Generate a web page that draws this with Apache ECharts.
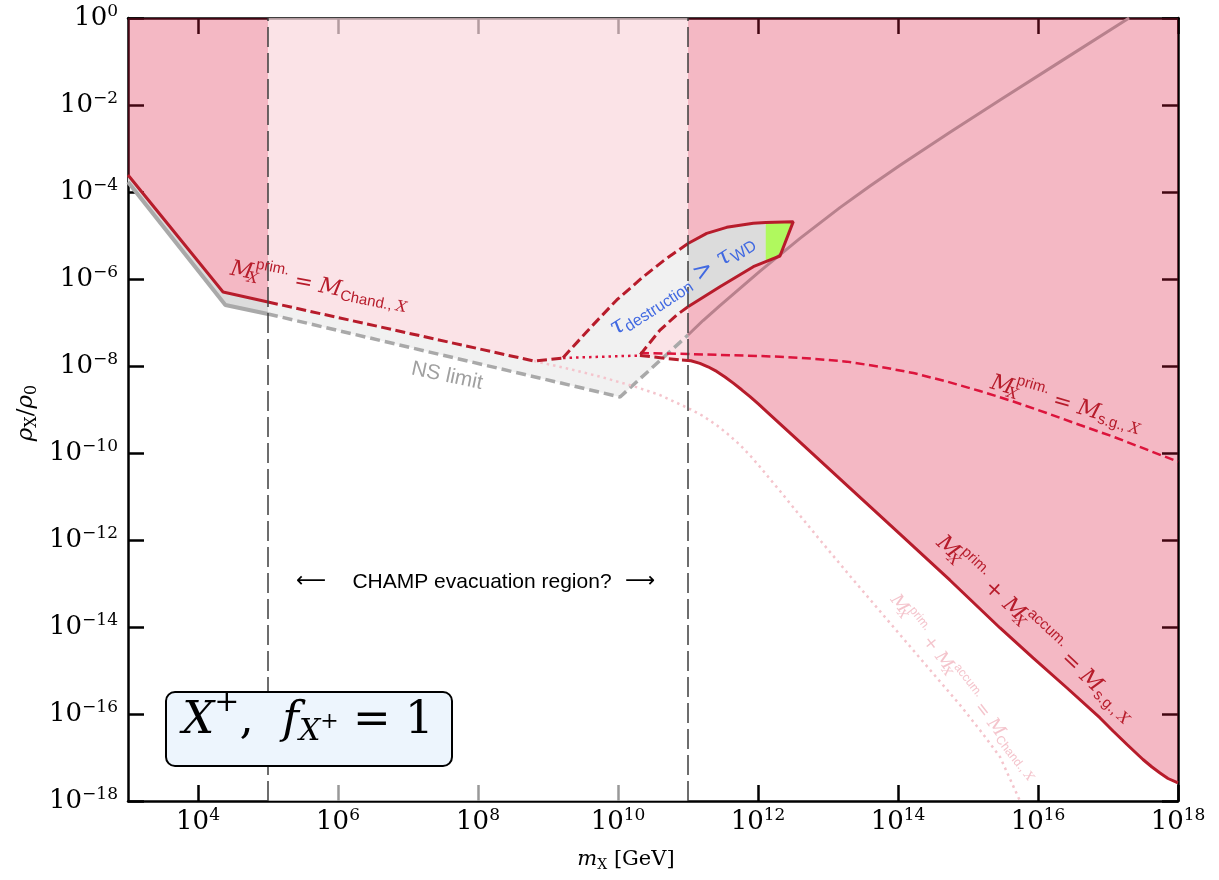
<!DOCTYPE html>
<html>
<head>
<meta charset="utf-8">
<script src="https://cdn.jsdelivr.net/npm/echarts@6.0.0/dist/echarts.min.js"></script>
<style>
html,body{margin:0;padding:0;background:#fff}
#chart{width:1219px;height:880px}
</style>
</head>
<body>
<div id="chart"></div>
<script>
// tick values (every second decade)
var xTicks = [1e4, 1e6, 1e8, 1e10, 1e12, 1e14, 1e16, 1e18];
var yTicks = [1e-18, 1e-16, 1e-14, 1e-12, 1e-10, 1e-8, 1e-6, 1e-4, 1e-2, 1];

// M_prim = M_Chand boundary (solid, dashed, dotted parts)
var chandSolid = [[1e3, 2.46e-4], [2.28e4, 5.02e-7], [1e5, 2.96e-7]];
var chandDashed = [[1e5, 2.96e-7], [6.31e8, 1.30e-8], [1.64e9, 1.53e-8]];
var chandDotted = [[1.64e9, 1.53e-8], [2.06e10, 1.74e-8]];
// M_prim + M_accum = M_s.g.
var sumDashed = [[2.06e10, 1.74e-8], [8.2e10, 1.37e-8]];
var sumSolid = [[8.2e10, 1.37e-8], [1.10e11, 1.32e-8], [1.48e11, 1.15e-8], [1.93e11, 9.6e-9], [2.57e11, 7.5e-9],
	[3.38e11, 5.6e-9], [4.44e11, 4.03e-9], [5.85e11, 2.84e-9], [7.69e11, 1.97e-9], [1.01e12, 1.34e-9],
	[1.33e12, 8.95e-10], [2.30e12, 4.0e-10], [3.98e12, 1.77e-10], [2.06e13, 1.55e-11], [1.07e14, 1.36e-12],
	[5.53e14, 1.19e-13], [2.87e15, 9.5e-15], [8.5e15, 1.94e-15], [2.6e16, 3.96e-16], [7.7e16, 8.1e-17],
	[1.18e17, 4.07e-17], [1.87e17, 1.99e-17], [2.43e17, 1.34e-17], [3.16e17, 9.0e-18], [4.25e17, 6.05e-18],
	[5.53e17, 4.4e-18], [7.2e17, 3.29e-18], [1e18, 2.6e-18]];
// M_prim = M_s.g.
var sgDashed = [[2.06e10, 1.99e-8], [1e11, 1.89e-8], [2.06e12, 1.64e-8], [6.17e12, 1.47e-8], [1.85e13, 1.26e-8],
	[5.53e13, 9.6e-9], [1.66e14, 6.9e-9], [4.97e14, 4.4e-9], [1.48e15, 2.66e-9], [4.44e15, 1.53e-9],
	[1.33e16, 8.3e-10], [3.98e16, 4.4e-10], [1.19e17, 2.37e-10], [3.38e17, 1.24e-10], [1e18, 6.3e-11]];
// M_prim + M_accum = M_Chand (faint)
var chandSum = [[6.31e8, 1.30e-8], [1.87e9, 8.8e-9], [5.53e9, 5.7e-9], [1.64e10, 3.47e-9], [3.98e10, 2.15e-9],
	[1e11, 1.08e-9], [1.64e11, 7.1e-10], [2.6e11, 4.29e-10], [3.85e11, 2.59e-10], [5.53e11, 1.53e-10],
	[7.69e11, 8.8e-11], [1.07e12, 4.77e-11], [1.48e12, 2.52e-11], [2.06e12, 1.34e-11], [3.61e12, 4.4e-12],
	[7.69e12, 1.0e-12], [2.06e13, 1.49e-13], [1.64e14, 2.96e-15], [7.7e14, 1.61e-16], [1.48e15, 4.28e-17],
	[2.87e15, 1.03e-17], [5.53e15, 1e-18]];
// NS limit
var nsSolid = [[1e3, 1.70e-4], [2.46e4, 2.52e-7], [1e5, 1.57e-7]];
var nsDashed = [[1e5, 1.57e-7], [1.07e10, 1.94e-9], [1e11, 5.16e-8]];
var nsUpper = [[1e11, 5.16e-8], [1.64e11, 1.11e-7], [2.86e11, 2.45e-7], [1.07e12, 1.51e-6], [3.98e12, 8.57e-6],
	[1.48e13, 4.38e-5], [3.98e13, 1.37e-4], [1.07e14, 4.11e-4], [5.53e14, 2.36e-3], [2.87e15, 1.30e-2],
	[2.06e16, 9.8e-2], [2.0e17, 1]];
var nsCross = [4.54e10, 1.53e-8];
// tau_destruction > tau_WD region
var tauUpperDashed = [[1.64e9, 1.55e-8], [3.98e9, 7.4e-8], [9.6e9, 3.3e-7], [2.30e10, 1.13e-6], [4.96e10, 2.99e-6], [1e11, 6.55e-6]];
var tauUpperSolid = [[1e11, 6.55e-6], [1.85e11, 1.12e-5], [3.57e11, 1.54e-5], [8.57e11, 1.91e-5], [1.29e12, 1.99e-5], [3.19e12, 2.08e-5]];
var tauLowerSolid = [[3.19e12, 2.08e-5], [2.06e12, 3.38e-6], [1.29e12, 2.5e-6], [8.57e11, 1.92e-6], [2.86e11, 6.65e-7], [1e11, 2.31e-7]];
var tauLowerDashed = [[1e11, 2.31e-7], [6.9e10, 1.49e-7], [3.98e10, 6.7e-8], [2.06e10, 1.79e-8]];
var greenArea = [[1.29e12, 1.99e-5], [3.19e12, 2.08e-5], [2.06e12, 3.38e-6], [1.29e12, 2.5e-6]];
// CHAMP evacuation band and dashed markers
var evacBand = [[1e5, 1e-18], [1e11, 1e-18], [1e11, 1], [1e5, 1]];
var vline5 = [[1e5, 1e-18], [1e5, 1]];
var vline11 = [[1e11, 1e-18], [1e11, 1]];

var red = '#b71c2b', crimson = '#dc143c', grey = '#a9a9a9', blue = '#4169e1';

function rev(a) {
	return a.slice().reverse();
}

var boundary = chandSolid.concat(chandDashed, chandDotted, sumDashed, sumSolid);
var pinkPoly = [[1e3, 1]].concat(boundary, [[1e18, 1]]);
var greyPoly = nsSolid.concat([nsDashed[1]], [nsCross], rev(chandDotted), rev(chandDashed), rev(chandSolid));
var tauPoly = tauUpperDashed.concat(tauUpperSolid, tauLowerSolid, tauLowerDashed);

function polygon(pts, fill) {
	return {
		type: 'custom', silent: true, animation: false, z: 2,
		data: [[1e6, 1e-6]],
		renderItem: function (params, api) {
			var shape = [];
			for (var i = 0; i < pts.length; i++) {
				shape.push(api.coord(pts[i]));
			}
			return {type: 'polygon', shape: {points: shape}, style: {fill: fill}};
		}
	};
}

function line(pts, color, width, type) {
	return {
		type: 'line', data: pts, symbol: 'none', silent: true, animation: false, z: 3,
		lineStyle: {color: color, width: width, type: type}
	};
}

// rich text styles for the math labels
function mathRich(B, color) {
	var s = Math.round(B * 0.68), L = Math.round(B * 1.9), c = L / 2;
	var pSup = Math.max(0, c - 0.42 * B - s / 2);
	var pSub = c + 0.25 * B - s / 2;
	return {
		i: {fontFamily: 'DejaVu Serif', fontStyle: 'italic', fontSize: B, lineHeight: L, fill: color, color: color},
		r: {fontFamily: 'DejaVu Serif', fontSize: B, lineHeight: L, fill: color, color: color},
		sup: {fontFamily: 'Liberation Sans', fontSize: s, verticalAlign: 'top', padding: [pSup, 0, 0, 0], fill: color, color: color},
		subx: {fontFamily: 'DejaVu Serif', fontStyle: 'italic', fontSize: s, verticalAlign: 'top', padding: [pSub, 0, 0, 0], width: 2, fill: color, color: color},
		subi: {fontFamily: 'DejaVu Serif', fontStyle: 'italic', fontSize: s, verticalAlign: 'top', padding: [pSub, 0, 0, 0], fill: color, color: color},
		subs: {fontFamily: 'Liberation Sans', fontSize: s, verticalAlign: 'top', padding: [pSub, 0, 0, 0], fill: color, color: color},
		subr: {fontFamily: 'DejaVu Serif', fontSize: s, verticalAlign: 'top', padding: [pSub, 0, 0, 0], fill: color, color: color}
	};
}

function mathText(x, y, rot, text, B, color) {
	return {
		type: 'text', x: x, y: y, rotation: rot * Math.PI / 180, z: 100, silent: true,
		style: {text: text, align: 'center', verticalAlign: 'middle', rich: mathRich(B, color)}
	};
}

function plainText(x, y, rot, text, size, color, family) {
	return {
		type: 'text', x: x, y: y, rotation: rot * Math.PI / 180, z: 100, silent: true,
		style: {text: text, align: 'center', verticalAlign: 'middle', fill: color,
			font: size + 'px "' + family + '"'}
	};
}

function tickLabel(v) {
	var e = Math.round(Math.log(v) / Math.LN10);
	return '{b|10}{s|' + (e < 0 ? '\u2212' + (-e) : e) + '}';
}

var tickRich = {
	b: {fontFamily: 'DejaVu Serif', fontSize: 26, lineHeight: 30, color: '#000'},
	s: {fontFamily: 'DejaVu Serif', fontSize: 17, verticalAlign: 'top', color: '#000'}
};

function axis(type, pos, min, max, ticks, labels) {
	// nudge the end values a hair inside the range so they are not dropped
	var vals = ticks.map(function (v) {
		return v <= min ? v * (1 + 1e-9) : v * (1 - 1e-9);
	});
	return {
		type: 'log', logBase: 10, position: pos, min: min, max: max,
		axisLine: {show: true, lineStyle: {color: '#000', width: 2.5}},
		axisTick: {show: true, inside: true, length: 16, customValues: vals, lineStyle: {color: '#000', width: 2.5}},
		axisLabel: {show: labels, customValues: vals, formatter: tickLabel, rich: tickRich,
			margin: type == 'x' ? 6 : 10},
		splitLine: {show: false},
		minorTick: {show: false}
	};
}

var chart = echarts.init(document.getElementById('chart'));
var option = {
	animation: false,
	backgroundColor: '#fff',
	grid: {left: 128, right: 41, top: 18, bottom: 79, outerBoundsMode: 'none'},
	xAxis: [axis('x', 'bottom', 1e3, 1e18, xTicks, true), axis('x', 'top', 1e3, 1e18, xTicks, false)],
	yAxis: [axis('y', 'left', 1e-18, 1, yTicks, true), axis('y', 'right', 1e-18, 1, yTicks, false)],
	series: [
		polygon(greyPoly, '#dcdcdc'),
		polygon(pinkPoly, 'rgba(220,20,60,0.3)'),
		polygon(tauPoly, '#dcdcdc'),
		polygon(greenArea, '#b0f95e'),
		polygon(evacBand, 'rgba(255,255,255,0.6)'),
		line(nsSolid, grey, 4, 'solid'),
		line(nsDashed, grey, 3.5, [10, 5]),
		line(nsUpper, '#b8818d', 3, 'solid'),
		line(chandSum, '#f4c4cc', 2.5, [2.5, 4]),
		line(chandSolid, red, 3, 'solid'),
		line(chandDashed, red, 3, [10, 4.5]),
		line(chandDotted, crimson, 2.5, [2.5, 4]),
		line(sumDashed, red, 3, [10, 4.5]),
		line(sumSolid, red, 3, 'solid'),
		line(sgDashed, crimson, 2.5, [9, 4.5]),
		line(tauUpperDashed, red, 3, [10, 4.5]),
		line(tauUpperSolid.concat(tauLowerSolid), red, 3, 'solid'),
		line(tauLowerDashed, red, 3, [10, 4.5]),
		line(vline5, '#3c3c3c', 1.5, [20, 6]),
		line(vline11, '#3c3c3c', 1.5, [20, 6])
	],
	graphic: [
		mathText(319, 286, -11, '{i|M}{subx|X}{sup|prim.}{r| = }{i|M}{subs|Chand., }{subi|X}', 22, red),
		plainText(447, 376, -12, 'NS limit', 21, '#a0a0a0', 'Liberation Sans'),
		mathText(682, 285, 33, '{i|\u03c4}{subs|destruction}{r| > }{i|\u03c4}{subs|WD}', 24, blue),
		mathText(1066, 404, -16, '{i|M}{subx|X}{sup|prim.}{r| = }{i|M}{subs|s.g., }{subi|X}', 22, red),
		mathText(1035, 629, -43, '{i|M}{subx|X}{sup|prim.}{r| + }{i|M}{subx|X}{sup|accum.}{r| = }{i|M}{subs|s.g., }{subi|X}', 22, red),
		mathText(964, 687, -52, '{i|M}{subx|X}{sup|prim.}{r| + }{i|M}{subx|X}{sup|accum.}{r| = }{i|M}{subs|Chand., }{subi|X}', 17.5, '#f4c4cc'),
		plainText(311, 582, 0, '\u27f5', 21, '#000', 'DejaVu Sans'),
		plainText(482, 582, 0, 'CHAMP evacuation region?', 21, '#000', 'Liberation Sans'),
		plainText(640, 582, 0, '\u27f6', 21, '#000', 'DejaVu Sans'),
		{
			type: 'rect', z: 100, silent: true,
			shape: {x: 166, y: 692, width: 286, height: 74, r: 9},
			style: {fill: '#edf5fd', stroke: '#000', lineWidth: 2}
		},
		{
			type: 'text', x: 308, y: 721, z: 101, silent: true,
			style: {
				text: '{i|X}{sup|+}{r|,  }{i|f}{sub|X}{ss|+}{r| = 1}', align: 'center', verticalAlign: 'middle',
				rich: {
					i: {fontFamily: 'DejaVu Serif', fontStyle: 'italic', fontSize: 45, lineHeight: 84, fill: '#000'},
					r: {fontFamily: 'DejaVu Serif', fontSize: 45, lineHeight: 84, fill: '#000'},
					sup: {fontFamily: 'DejaVu Serif', fontSize: 30, verticalAlign: 'top', padding: [9, 0, 0, 0], fill: '#000'},
					sub: {fontFamily: 'DejaVu Serif', fontStyle: 'italic', fontSize: 30, verticalAlign: 'top', padding: [38, 0, 0, 0], fill: '#000'},
					ss: {fontFamily: 'DejaVu Serif', fontSize: 22, verticalAlign: 'top', padding: [32, 0, 0, 0], fill: '#000'}
				}
			}
		},
		mathText(626, 860, 0, '{i|m}{subr|X}{r| [GeV]}', 21, '#000'),
		mathText(26, 413, 90, '{i|\u03c1}{subr|X}{r|/}{i|\u03c1}{subr|0}', 23, '#000')
	]
};
chart.setOption(option);
</script>
</body>
</html>
